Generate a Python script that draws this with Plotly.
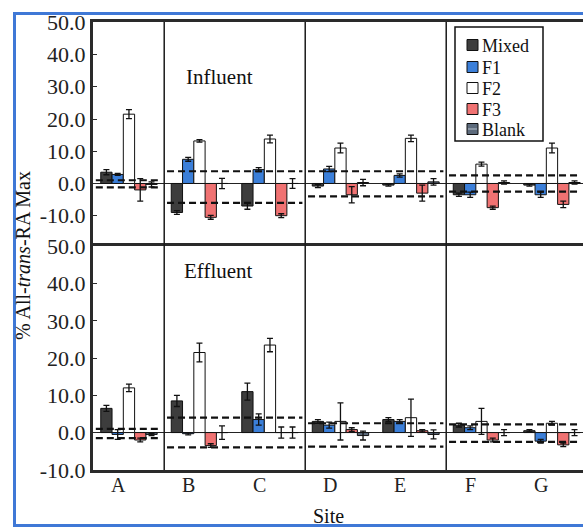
import plotly.graph_objects as go
from plotly.subplots import make_subplots

sites = ["A", "B", "C", "D", "E", "F", "G"]
series = ["Mixed", "F1", "F2", "F3", "Blank"]
y_tick_vals = [-10, 0, 10, 20, 30, 40, 50]
y_tick_text = ["-10.0", "0.0", "10.0", "20.0", "30.0", "40.0", "50.0"]

# Influent (top panel)
inf_mixed = [3.5, -9.0, -7.0, -0.8, -0.5, -3.5, -0.5]
inf_mixed_err = [0.8, 0.6, 1.0, 0.5, 0.3, 0.5, 0.3]
inf_f1 = [2.8, 7.5, 4.3, 4.5, 2.5, -3.5, -3.5]
inf_f1_err = [0.3, 0.6, 0.6, 0.8, 0.5, 0.8, 0.8]
inf_f2 = [21.5, 13.2, 13.8, 11.0, 14.0, 6.0, 11.0]
inf_f2_err = [1.4, 0.4, 1.2, 1.5, 1.0, 0.6, 1.5]
inf_f3 = [-2.0, -10.5, -10.0, -3.5, -3.0, -7.5, -6.5]
inf_f3_err = [3.5, 0.6, 0.6, 2.5, 2.5, 0.5, 1.0]
inf_blank = [-0.3, 0.0, 0.0, 0.3, 0.5, 0.3, 0.3]
inf_blank_err = [0.8, 1.6, 1.5, 1.0, 1.0, 0.5, 0.5]

# Effluent (bottom panel)
eff_mixed = [6.5, 8.5, 11.0, 3.0, 3.5, 2.0, 0.5]
eff_mixed_err = [0.8, 1.5, 2.3, 0.5, 0.5, 0.5, 0.3]
eff_f1 = [-0.5, -0.3, 3.5, 2.0, 3.0, 1.3, -2.3]
eff_f1_err = [1.3, 0.3, 1.5, 0.8, 0.5, 0.5, 0.5]
eff_f2 = [12.0, 21.5, 23.5, 3.0, 4.0, 3.0, 2.5]
eff_f2_err = [1.0, 2.5, 1.8, 5.0, 5.0, 3.5, 0.5]
eff_f3 = [-2.0, -3.5, 0.0, 0.8, 0.5, -2.0, -3.3]
eff_f3_err = [0.5, 0.5, 1.5, 0.5, 0.3, 0.5, 0.5]
eff_blank = [-0.5, 0.0, 0.0, -0.8, -0.5, 0.0, 0.0]
eff_blank_err = [0.3, 1.8, 1.5, 1.2, 1.2, 0.8, 0.8]

# Threshold (dashed) lines per site region: A | B-C | D-E | F-G
region_bounds = [-0.51, 0.5, 2.5, 4.5, 6.44]
inf_upper = [1.0, 3.8, 3.8, 2.5]
inf_lower = [-1.2, -6.0, -4.0, -2.5]
eff_upper = [1.0, 4.0, 2.5, 2.2]
eff_lower = [-1.5, -4.0, -3.8, -2.5]

colors = {"Mixed": "#3d3d3d", "F1": "#3b7fd9", "F2": "#ffffff",
          "F3": "#f07272", "Blank": "#5d6b7c"}

FONT = "Liberation Serif, Times New Roman, serif"
fig = make_subplots(rows=2, cols=1, shared_xaxes=True, vertical_spacing=0)
x = list(range(len(sites)))

panels = [
    (1, [inf_mixed, inf_f1, inf_f2, inf_f3, inf_blank],
     [inf_mixed_err, inf_f1_err, inf_f2_err, inf_f3_err, inf_blank_err],
     inf_upper, inf_lower),
    (2, [eff_mixed, eff_f1, eff_f2, eff_f3, eff_blank],
     [eff_mixed_err, eff_f1_err, eff_f2_err, eff_f3_err, eff_blank_err],
     eff_upper, eff_lower),
]

for row, vals, errs, up, lo in panels:
    for name, v, e in zip(series, vals, errs):
        marker = dict(color=colors[name], line=dict(color="#111111", width=1))
        if name == "Blank":
            marker["pattern"] = dict(shape="-", bgcolor=colors[name],
                                     fgcolor="#b8c2cc", size=4, solidity=0.3)
        fig.add_trace(go.Bar(
            x=x, y=v, name=name, marker=marker, showlegend=False,
            error_y=dict(type="data", array=e, color="#111111",
                         thickness=1.3, width=3),
        ), row=row, col=1)
    for k in range(len(up)):
        x0 = region_bounds[k] + 0.04
        x1 = region_bounds[k + 1] - 0.04
        for lvl in (up[k], lo[k]):
            fig.add_trace(go.Scatter(
                x=[x0, x1], y=[lvl, lvl], mode="lines",
                line=dict(color="#111111", width=2.2, dash="7px,4px"),
                showlegend=False, hoverinfo="skip"), row=row, col=1)

axis_line = dict(showline=True, linewidth=3, linecolor="#2a2a2a",
                 showgrid=False)
fig.update_xaxes(range=[region_bounds[0], region_bounds[-1]],
                 zeroline=False, showticklabels=False, ticks="", **axis_line)
fig.update_xaxes(side="top", mirror=False, row=1, col=1)
fig.update_xaxes(mirror=True, row=2, col=1)
fig.update_yaxes(tickvals=y_tick_vals, ticktext=y_tick_text,
                 ticks="inside", ticklen=4, tickcolor="#2a2a2a",
                 tickfont=dict(family=FONT, size=22, color="#222"),
                 zeroline=True, zerolinecolor="#222", zerolinewidth=1,
                 **axis_line)
fig.update_yaxes(range=[-19.4, 50.1], row=1, col=1)
fig.update_yaxes(range=[-10.05, 50.1], row=2, col=1)


def px_x(p):
    return (p - 93) / 490


def px_y(p):
    return (470 - p) / 448


shapes = []
for sx in region_bounds[1:-1]:
    shapes.append(dict(type="line", xref="x", yref="paper", x0=sx, x1=sx,
                       y0=0, y1=1, line=dict(color="#1a1a1a", width=1.5)))

# legend box (drawn by hand to match the compact original)
shapes.append(dict(type="rect", xref="paper", yref="paper",
                   x0=px_x(455), x1=px_x(543), y0=px_y(141), y1=px_y(27),
                   fillcolor="white", line=dict(color="#111", width=1.5),
                   layer="above"))
annotations = []
leg_y = [45, 67, 88, 109, 129]
for name, cy in zip(series, leg_y):
    shapes.append(dict(type="rect", xref="paper", yref="paper",
                       x0=px_x(467), x1=px_x(478), y0=px_y(cy + 5.5),
                       y1=px_y(cy - 5.5), fillcolor=colors[name],
                       line=dict(color="#111", width=1), layer="above"))
    if name == "Blank":
        shapes.append(dict(type="line", xref="paper", yref="paper",
                           x0=px_x(468), x1=px_x(477), y0=px_y(cy),
                           y1=px_y(cy), line=dict(color="#b8c2cc", width=1),
                           layer="above"))
    annotations.append(dict(text=name, x=px_x(480), y=px_y(cy + 1),
                            xref="paper", yref="paper", showarrow=False,
                            xanchor="left", yanchor="middle",
                            font=dict(family=FONT, size=18, color="#111")))

# site labels under the lower panel
for i, s in zip(x, sites):
    annotations.append(dict(text=s, x=i - 0.15, y=px_y(485), xref="x2",
                            yref="paper", showarrow=False, xanchor="center",
                            yanchor="middle",
                            font=dict(family=FONT, size=20, color="#222")))

# scanned-figure blue frame
shapes.append(dict(type="rect", xref="paper", yref="paper",
                   x0=px_x(14.5), x1=1.2, y0=px_y(525.5), y1=px_y(13.5),
                   line=dict(color="#3f78d6", width=3), layer="above"))

annotations += [
    dict(text="Influent", x=px_x(219), y=px_y(63), xanchor="center",
         xref="paper", yref="paper", showarrow=False,
         font=dict(family=FONT, size=21, color="#111")),
    dict(text="Effluent", x=px_x(218), y=px_y(271), xanchor="center",
         xref="paper", yref="paper", showarrow=False,
         font=dict(family=FONT, size=21, color="#111")),
    dict(text="% All-<i>trans</i>-RA Max", x=px_x(23), y=px_y(256),
         xanchor="center", yanchor="middle",
         xref="paper", yref="paper", showarrow=False,
         textangle=-90, font=dict(family=FONT, size=20, color="#111")),
    dict(text="Site", x=px_x(328), y=px_y(529), xanchor="center",
         xref="paper", yref="paper", showarrow=False, yanchor="bottom",
         font=dict(family=FONT, size=20, color="#111")),
]

fig.update_layout(
    width=583, height=529,
    margin=dict(l=93, r=0, t=22, b=59),
    paper_bgcolor="white", plot_bgcolor="white",
    barmode="group", bargap=0.2, bargroupgap=0,
    shapes=shapes, annotations=annotations,
    showlegend=False,
    font=dict(family=FONT),
)

fig.write_html("out.html")
